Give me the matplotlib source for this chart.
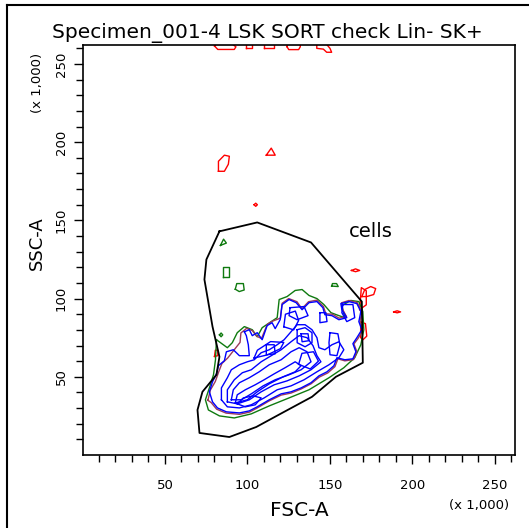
import numpy as np
import matplotlib.pyplot as plt
from matplotlib.lines import Line2D

plt.rcParams['font.family'] = ['DejaVu Sans']

title = "Specimen_001-4 LSK SORT check Lin- SK+"
x_label = "FSC-A"
y_label = "SSC-A"
scale_note = "(x 1,000)"
gate_name = "cells"
gate_label_pos = (175, 143)
tick_values = [50, 100, 150, 200, 250]
minor_values = list(range(10, 270, 10))
axis_max = 262.144

# gate polygon (FSC-A, SSC-A in thousands)
gate_x = [83.0, 105.9, 138.5, 169.3, 169.9, 153.6, 139.1, 121.0, 105.3, 89.0,
          70.9, 69.7, 72.7, 81.2, 83.0, 78.8, 73.9, 75.1]
gate_y = [143.0, 148.7, 135.9, 98.1, 59.0, 50.0, 37.2, 26.9, 17.9, 11.5,
          14.1, 28.8, 40.4, 51.3, 62.8, 82.1, 112.2, 125.0]

# outermost contour level (red): small islands
red_loops = [
    ([80, 82, 92, 93, 91, 81], [261.5, 259.3, 259.3, 261, 262.5, 262.5]),
    ([99, 103, 103, 99], [260.5, 260.5, 262.5, 262.5]),
    ([110, 116, 116, 110], [260.3, 260.3, 262.5, 262.5]),
    ([124, 125, 131, 132, 132, 124], [261, 259.2, 259.2, 261, 262.5, 262.5]),
    ([142, 142, 146, 148, 151, 150, 148], [262.5, 260, 259.5, 257.5, 257.5, 260, 262.5]),
    ([82.4, 82.4, 86.0, 89.0, 88.4, 86.0], [181.4, 187.8, 191.7, 191.0, 185.9, 181.4]),
    ([111.4, 114.4, 116.8], [191.7, 196.2, 191.7]),
    ([104.0, 105.0, 106.0, 105.0], [160.0, 161.0, 160.0, 159.0]),
    ([163.0, 165.5, 168.0, 165.5], [118.0, 119.0, 118.0, 117.2]),
    ([169.3, 171.1, 174.7, 177.7, 176.5, 172.3], [101.3, 105.8, 107.7, 106.4, 102.6, 101.3]),
    ([188.6, 190.7, 192.8, 190.7], [91.5, 92.2, 91.5, 90.9]),
    ([168.0, 172.0, 172.0, 169.0], [93.0, 96.0, 105.0, 107.0]),
    ([168.6, 171.5, 172.3, 170.0, 168.6], [85.0, 84.0, 76.0, 73.7, 75.0]),
    ([80.0, 82.0, 82.0, 80.5], [63.0, 63.5, 67.0, 67.0]),
]

# second level (green)
green_loops = [
    ([83.6, 87.2, 85.5], [134.0, 135.5, 138.0]),
    ([85.0, 89.0, 89.0, 85.0], [113.6, 113.6, 120.0, 120.0]),
    ([92.6, 95.0, 98.0, 97.5, 93.5], [106.0, 104.5, 105.5, 109.6, 109.6]),
    ([151.0, 155.0, 154.0, 151.5], [108.0, 107.7, 109.6, 109.6]),
    ([83.0, 84.0, 85.0, 84.0], [76.8, 78.0, 76.8, 75.6]),
    ([81.2, 87.8, 90.8, 93.8, 98.1, 102.9, 105.9, 108.9, 114.4, 118.0, 119.2,
      124.0, 128.9, 133.1, 137.3, 142.1, 146.3, 150.6, 155.4, 159.0, 157.2,
      162.6, 167.5, 169.9, 170.5, 168.7, 165.0, 158.4, 149.4, 137.3, 125.2,
      113.2, 102.3, 92.0, 83.0, 76.3, 74.5, 76.9, 79.4, 80.6],
     [73.7, 68.6, 71.8, 78.2, 82.1, 80.1, 75.6, 81.4, 85.3, 87.8, 99.4,
      101.3, 105.2, 105.8, 102.0, 100.0, 96.2, 91.0, 89.1, 87.8, 95.5,
      98.8, 98.1, 91.7, 80.1, 70.5, 62.2, 55.8, 49.4, 41.7, 36.5,
      31.4, 26.3, 23.7, 25.0, 28.8, 35.3, 42.9, 51.3, 60.9]),
]

# third level (maroon), hugging the blue envelope
maroon_loops = [
    ([76.0, 77.5, 80.5, 82.5, 84.5, 88.0, 95.5, 96.0, 99.5, 103.0, 105.5, 108.5,
      112.0, 115.0, 120.0, 121.0, 125.0, 130.0, 133.0, 137.0, 142.0, 146.0, 147.5,
      151.5, 155.5, 160.0, 157.7, 157.0, 161.5, 166.5, 169.3, 168.2, 170.0, 167.0,
      164.5, 166.3, 164.3, 159.0, 154.8, 153.0, 148.7, 143.5, 138.5, 132.5, 126.4,
      120.4, 113.0, 105.8, 101.2, 95.1, 87.0, 81.3, 78.0],
     [35.0, 41.5, 47.0, 53.0, 58.5, 62.0, 72.0, 78.0, 81.0, 79.5, 76.0, 74.5,
      83.5, 85.5, 87.5, 97.0, 100.0, 98.0, 93.5, 98.0, 99.0, 95.0, 90.3,
      90.0, 87.5, 88.5, 93.0, 97.3, 98.8, 97.5, 91.8, 85.3, 80.0, 74.5,
      71.0, 66.0, 61.0, 60.2, 61.5, 56.5, 52.5, 49.8, 45.5, 42.2, 39.6,
      38.3, 34.5, 30.0, 27.4, 26.0, 26.8, 29.3, 33.5]),
]

# higher levels (blue), outer to inner
blue_loops = [
    ([98.1, 101.1, 102.9, 105.9, 108.9, 111.9, 114.9, 116.8, 119.8, 121.0, 125.2,
      129.5, 133.1, 137.3, 142.1, 145.7, 146.9, 151.2, 155.4, 160.2, 157.2, 156.6,
      161.4, 166.3, 168.7, 167.5, 169.3, 166.3, 163.9, 165.7, 163.9, 159.0, 154.2,
      152.4, 148.2, 143.3, 138.5, 132.5, 126.4, 120.4, 113.2, 105.9, 101.1, 95.1,
      87.2, 81.8, 78.8, 76.9, 78.8, 81.2, 82.4, 86.0, 87.2, 91.4, 95.1, 101.1,
      100.5, 99.3],
     [78.8, 80.1, 76.3, 78.2, 73.7, 82.7, 84.6, 80.8, 86.5, 96.2, 99.4,
      97.4, 92.9, 97.4, 98.1, 94.2, 89.7, 89.1, 86.5, 87.8, 92.9, 96.8,
      98.1, 96.8, 91.7, 85.3, 80.1, 75.0, 71.2, 66.0, 61.5, 60.9, 62.2,
      57.1, 53.2, 50.6, 46.2, 42.9, 40.4, 39.1, 35.3, 30.8, 28.2, 26.9,
      27.6, 30.1, 34.0, 40.4, 46.8, 51.9, 57.1, 60.3, 66.0, 67.3, 63.5, 63.5,
      70.5, 76.3]),
    ([84.2, 84.2, 87.8, 90.2, 95.1, 99.9, 104.1, 108.3, 113.2, 118.0, 122.2, 126.4,
      130.1, 134.9, 139.1, 142.1, 143.3, 146.9, 151.2, 155.4, 158.4, 155.4, 149.4,
      142.1, 134.3, 126.4, 118.0, 110.1, 102.3, 95.1, 87.8],
     [35.3, 42.9, 49.4, 54.5, 57.7, 59.6, 60.9, 65.4, 67.3, 70.5, 73.7, 78.8,
      83.3, 83.3, 80.1, 75.0, 68.6, 67.3, 70.5, 72.4, 67.3, 62.2, 57.7,
      53.2, 48.1, 44.2, 41.7, 36.5, 32.1, 30.1, 30.8]),
    ([87.8, 87.8, 92.0, 96.9, 102.3, 108.3, 114.4, 120.4, 126.4, 131.3, 136.1,
      139.7, 142.1, 144.5, 138.5, 131.3, 124.0, 116.2, 108.3, 101.1, 93.8],
     [34.0, 41.7, 48.1, 52.6, 54.5, 59.6, 63.5, 67.3, 72.4, 76.3, 75.0,
      69.9, 63.5, 59.6, 54.5, 50.6, 47.4, 44.9, 40.4, 35.3, 32.7]),
    ([90.2, 91.4, 95.1, 101.1, 107.1, 113.2, 120.4, 126.4, 131.3, 136.1, 138.5,
      132.5, 125.2, 116.8, 109.5, 102.3, 96.3],
     [35.3, 41.7, 46.2, 49.4, 53.2, 57.7, 60.9, 66.0, 68.6, 66.0, 59.6,
      54.5, 51.3, 48.1, 44.2, 39.1, 35.3]),
    ([92.6, 93.8, 98.7, 104.7, 110.1, 116.2, 122.8, 128.9, 132.5, 128.9, 121.6,
      113.2, 105.9, 99.9],
     [33.3, 38.5, 41.7, 44.9, 48.1, 51.9, 55.8, 59.6, 57.1, 53.2, 50.0,
      45.5, 40.4, 35.3]),
    ([93.8, 97.5, 103.5, 108.3, 104.7, 98.7], [32.7, 36.5, 37.8, 36.5, 32.1, 30.8]),
    ([130.1, 134.9, 139.1, 139.1, 134.9, 130.1], [80.1, 81.4, 78.2, 71.8, 69.2, 71.8]),
    ([132.5, 136.7, 137.3, 133.1], [77.5, 77.5, 73.1, 72.4]),
    ([143.9, 147.5, 148.2, 143.9], [91.0, 91.0, 85.3, 84.6]),
    ([150.0, 154.8, 156.0, 154.2, 150.0, 149.4], [78.2, 77.5, 70.5, 63.5, 64.1, 71.8]),
    ([157.8, 163.9, 165.0, 160.2, 157.2], [96.2, 96.2, 87.8, 85.3, 91.0]),
    ([125.8, 134.3, 136.7, 130.1, 125.2], [94.2, 94.9, 89.1, 86.5, 89.1]),
    ([111.4, 116.2, 116.8, 111.4], [70.5, 70.5, 64.7, 64.1]),
    ([104.0, 112.0, 120.0, 122.0, 114.0, 106.0], [62.0, 64.0, 68.0, 72.0, 72.5, 67.0]),
    ([122.0, 128.0, 131.0, 129.0, 123.0], [82.0, 80.0, 86.0, 92.0, 90.0]),
    ([131.0, 138.0, 143.0, 140.0, 133.0], [58.0, 55.0, 60.0, 66.0, 65.0]),
]

level_colors = {"red": "#ff0000", "green": "#0f7a0f", "maroon": "#9b3a5a", "blue": "#0000ff"}

fig = plt.figure(figsize=(5.29, 5.28), dpi=100)
ax = fig.add_axes([82.5 / 529, 73 / 528, 432.5 / 529, 410 / 528])


def closed(v):
    return np.append(v, v[0])


for loops, name in [(red_loops, "red"), (green_loops, "green"),
                    (maroon_loops, "maroon"), (blue_loops, "blue")]:
    for lx, ly in loops:
        ax.plot(closed(lx), closed(ly), color=level_colors[name], lw=1.0)

ax.plot(closed(gate_x), closed(gate_y), color="black", lw=1.3)
ax.text(gate_label_pos[0], gate_label_pos[1], gate_name, fontsize=14,
        ha="center", va="center")

ax.set_xlim(0, axis_max)
ax.set_ylim(0, axis_max)
ax.set_xticks(tick_values)
ax.set_yticks(tick_values)
ax.set_xticks(minor_values, minor=True)
ax.set_yticks(minor_values, minor=True)
ax.tick_params(which="major", direction="out", length=6.5, width=1, labelsize=9.5)
ax.tick_params(which="minor", direction="out", length=5, width=1)
ax.tick_params(axis="x", pad=11)
ax.tick_params(axis="y", pad=4, labelrotation=90)
for lab in ax.get_yticklabels():
    lab.set_va("center")
for s in ax.spines.values():
    s.set_linewidth(1.2)

fig.text(267 / 529, 1 - 33 / 528, title, fontsize=14.5, ha="center", va="center")
fig.text(299 / 529, 1 - 510 / 528, x_label, fontsize=14.5, ha="center", va="center")
fig.text(479 / 529, 1 - 505 / 528, scale_note, fontsize=9.5, ha="center", va="center")
fig.text(37 / 529, 1 - 243 / 528, y_label, fontsize=13, ha="center", va="center",
         rotation=90)
fig.text(38 / 529, 1 - 83 / 528, scale_note, fontsize=9.5, ha="center", va="center",
         rotation=90)

fig.add_artist(Line2D([7 / 529, 7 / 529], [0, 1 - 5 / 528], color="black", lw=1.5))
fig.add_artist(Line2D([7 / 529, 1], [1 - 5 / 528, 1 - 5 / 528], color="black", lw=1.5))

fig.savefig("out.png", dpi=100)
